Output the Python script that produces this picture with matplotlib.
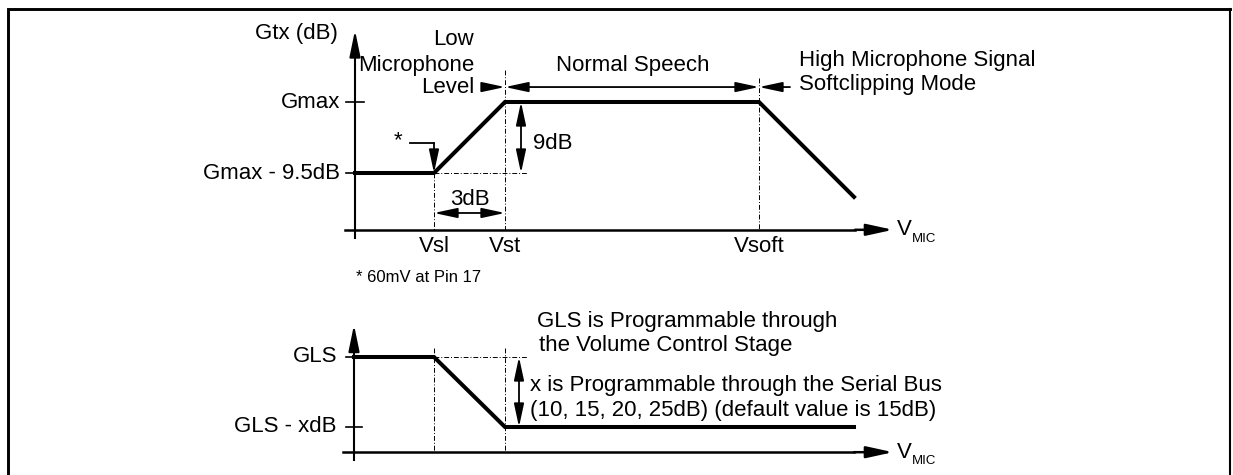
import numpy as np
import matplotlib.pyplot as plt

plt.rcParams['font.family'] = ['Liberation Sans', 'DejaVu Sans']

W, H = 1233, 475

# top curve: Gtx (dB, relative to Gmax) against V_MIC (arbitrary units)
vmic_top = [0, 7.9, 15.0, 40.4, 49.9]
gtx_db = [-9.5, -9.5, 0, 0, -12.7]
top_ticks = [0, -9.5]
top_tick_labels = ['Gmax', 'Gmax - 9.5dB']
top_vlabels = ['Vsl', 'Vst', 'Vsoft']

# bottom curve: GLS (dB) against V_MIC, x = 15dB default
vmic_bot = [0, 8.0, 15.1, 50.0]
gls_db = [0, 0, -15, -15]
bot_ticks = [0, -15]
bot_tick_labels = ['GLS', 'GLS - xdB']

FS = 16
DASH = dict(color='black', lw=0.7, ls=(0, (5, 2, 1, 2)))


def overlay(fig, x0, y0, sx, sy):
    # full-figure axes, data origin at pixel (x0, y0), sx/sy pixels per unit
    ax = fig.add_axes([0, 0, 1, 1])
    ax.set_xlim(-x0 / sx, (W - x0) / sx)
    ax.set_ylim((y0 - H) / sy, y0 / sy)
    ax.axis('off')
    ax.patch.set_alpha(0)
    return ax


def arrow(ax, x1, y1, x2, y2, style='-|>', lw=1.3, hl=1.4, hw=0.3):
    ax.annotate('', xy=(x2, y2), xytext=(x1, y1),
                arrowprops=dict(arrowstyle='%s,head_length=%s,head_width=%s' % (style, hl, hw),
                                lw=lw, color='black', shrinkA=0, shrinkB=0,
                                mutation_scale=10))


fig = plt.figure(figsize=(W / 100, H / 100), dpi=100)

# frame
axf = fig.add_axes([0, 0, 1, 1])
axf.set_xlim(0, W)
axf.set_ylim(H, 0)
axf.axis('off')
axf.plot([8, 8, 1230], [H, 9, 9], color='black', lw=2.1, solid_joinstyle='miter')
axf.plot([1230, 1230], [9, H], color='black', lw=1.5)

# ---------------- top diagram ----------------
ax = overlay(fig, 355, 102, 10, 71 / 9.5)
base = -17.1
ax.plot(vmic_top, gtx_db, color='black', lw=2.9, solid_joinstyle='miter')
ax.plot([-1.0, 50], [base, base], color='black', lw=1.8)
arrow(ax, 50, base, 53.8, base, lw=1.8, hl=1.6, hw=0.35)
ax.plot([0, 0], [-18.2, 5], color='black', lw=1.5)
arrow(ax, 0, 5, 0, 9.6, lw=1.5, hl=1.6, hw=0.33)
for t, lab in zip(top_ticks, top_tick_labels):
    ax.plot([-0.9, 0.9], [t, t], color='black', lw=1.2)
    ax.text(-1.5, t, lab, fontsize=FS, ha='right', va='center')
ax.text(-1.7, 9.2, 'Gtx (dB)', fontsize=FS, ha='right', va='center')

# guide lines
ax.plot([vmic_top[1], vmic_top[1]], [gtx_db[1], base], **DASH)
ax.plot([vmic_top[2], vmic_top[2]], [4.3, base], **DASH)
ax.plot([vmic_top[3], vmic_top[3]], [3.2, base], **DASH)
ax.plot([vmic_top[1], 17.3], [gtx_db[1], gtx_db[1]], **DASH)

# 9dB and 3dB dimensions
arrow(ax, 16.6, gtx_db[1], 16.6, gtx_db[2], style='<|-|>')
ax.text(17.8, -5.5, '9dB', fontsize=FS, ha='left', va='center')
arrow(ax, vmic_top[1], -14.85, vmic_top[2], -14.85, style='<|-|>')
ax.text((vmic_top[1] + vmic_top[2]) / 2, -13.1, '3dB', fontsize=FS, ha='center', va='center')

# star callout
ax.plot([5.5, vmic_top[1]], [-5.5, -5.5], color='black', lw=1.3)
arrow(ax, vmic_top[1], -5.5, vmic_top[1], gtx_db[1])
ax.text(4.3, -5.2, '*', fontsize=FS, ha='center', va='center')

# region arrows
ry = 2.0
arrow(ax, 12.7, ry, vmic_top[2], ry)
arrow(ax, vmic_top[2], ry, vmic_top[3], ry, style='<|-|>')
arrow(ax, 43.5, ry, vmic_top[3], ry)
ax.text(11.9, 8.3, 'Low', fontsize=FS, ha='right', va='center')
ax.text(11.9, 4.95, 'Microphone', fontsize=FS, ha='right', va='center')
ax.text(11.9, 2.0, 'Level', fontsize=FS, ha='right', va='center')
ax.text(27.8, 4.95, 'Normal Speech', fontsize=FS, ha='center', va='center')
ax.text(44.4, 5.6, 'High Microphone Signal', fontsize=FS, ha='left', va='center')
ax.text(44.4, 2.3, 'Softclipping Mode', fontsize=FS, ha='left', va='center')

for x, lab in zip(vmic_top[1:4], top_vlabels):
    ax.text(x, -19.4, lab, fontsize=FS, ha='center', va='center')
ax.text(54.2, base, 'V', fontsize=FS, ha='left', va='center')
ax.text(55.7, base - 0.4, 'MIC', fontsize=9.5, ha='left', va='top')
ax.text(0.1, -23.5, '* 60mV at Pin 17', fontsize=12, ha='left', va='center')

# ---------------- bottom diagram ----------------
bx = overlay(fig, 354, 357, 10, 70 / 15)
bbase = -20.4
bx.plot(vmic_bot, gls_db, color='black', lw=2.9, solid_joinstyle='miter')
bx.plot([-1.1, 50], [bbase, bbase], color='black', lw=1.8)
arrow(bx, 50, bbase, 53.9, bbase, lw=1.8, hl=1.6, hw=0.35)
bx.plot([0, 0], [-22.1, 3], color='black', lw=1.5)
arrow(bx, 0, 3, 0, 6.9, lw=1.5, hl=1.6, hw=0.33)
for t, lab in zip(bot_ticks, bot_tick_labels):
    bx.plot([-0.8, 0.8], [t, t], color='black', lw=1.2)
    bx.text(-1.7, t, lab, fontsize=FS, ha='right', va='center')

bx.plot([vmic_bot[1], vmic_bot[1]], [1.9, bbase], **DASH)
bx.plot([vmic_bot[2], vmic_bot[2]], [1.9, bbase], **DASH)
bx.plot([vmic_bot[1], 17.4], [gls_db[1], gls_db[1]], **DASH)
arrow(bx, 16.5, gls_db[0], 16.5, gls_db[2], style='<|-|>')

bx.text(18.3, 7.5, 'GLS is Programmable through', fontsize=FS, ha='left', va='center')
bx.text(18.5, 2.4, 'the Volume Control Stage', fontsize=FS, ha='left', va='center')
bx.text(17.6, -6.0, 'x is Programmable through the Serial Bus', fontsize=FS, ha='left', va='center')
bx.text(17.6, -11.4, '(10, 15, 20, 25dB) (default value is 15dB)', fontsize=FS, ha='left', va='center')
bx.text(54.3, bbase, 'V', fontsize=FS, ha='left', va='center')
bx.text(55.8, bbase - 0.6, 'MIC', fontsize=9.5, ha='left', va='top')

fig.savefig('out.png', dpi=100)
